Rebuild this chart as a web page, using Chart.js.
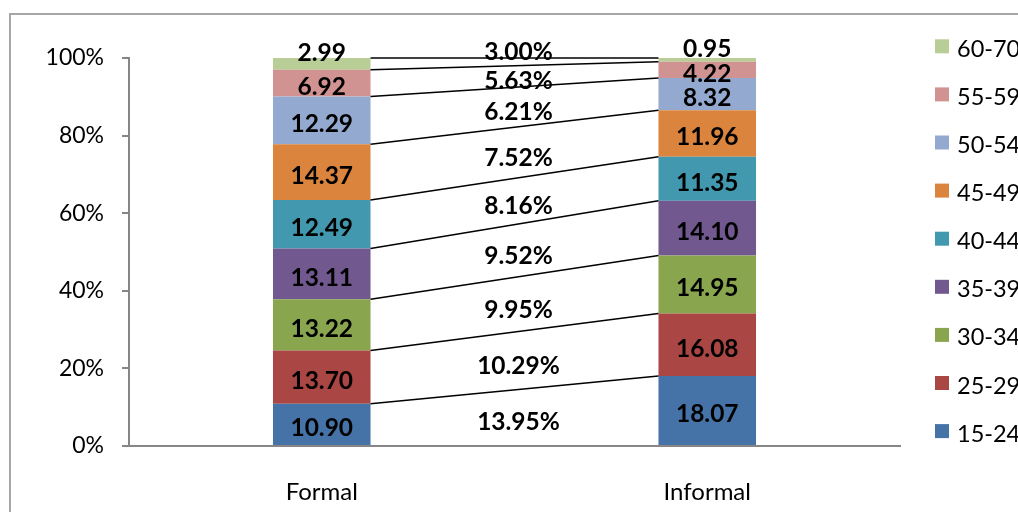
<!DOCTYPE html>
<html>
<head>
<meta charset="utf-8">
<script src="https://cdn.jsdelivr.net/npm/chart.js@4/dist/chart.umd.min.js"></script>
<style>
  html, body { margin: 0; padding: 0; background: #fff; overflow: hidden; }
  #frame { position: absolute; left: 9px; top: 13px; width: 1100px; height: 600px;
           border-left: 2px solid #a6a6a6; border-top: 2px solid #a6a6a6; }
  #c { position: absolute; left: 0; top: 0; }
</style>
</head>
<body>
<div id="frame"></div>
<canvas id="c" width="1018" height="512"></canvas>
<script>
// Employment shares by age group (%), formal vs informal
const categories = ['Formal', 'Informal'];
const ageGroups = ['15-24', '25-29', '30-34', '35-39', '40-44', '45-49', '50-54', '55-59', '60-70'];
const formalShares = [10.90, 13.70, 13.22, 13.11, 12.49, 14.37, 12.29, 6.92, 2.99];
const informalShares = [18.07, 16.08, 14.95, 14.10, 11.35, 11.96, 8.32, 4.22, 0.95];
const gapLabels = ['13.95%', '10.29%', '9.95%', '9.52%', '8.16%', '7.52%', '6.21%', '5.63%', '3.00%'];
const yTicks = [0, 20, 40, 60, 80, 100];

const palette = ['#4572A7', '#AA4643', '#89A54E', '#71588F', '#4198AF', '#DB843D', '#93A9CF', '#D19392', '#B9CD96'];
const AXIS = '#868686';
const FONT = 'Lato, "Open Sans", sans-serif';

const datasets = ageGroups.map((g, i) => ({
  label: g,
  data: [formalShares[i], informalShares[i]],
  backgroundColor: palette[i],
  borderWidth: 0,
  barPercentage: 0.253,
  categoryPercentage: 1
}));

// Excel-style series lines joining segment tops of the two columns
const seriesLines = {
  id: 'seriesLines',
  afterDatasetsDraw(chart) {
    const ctx = chart.ctx;
    ctx.save();
    ctx.strokeStyle = '#000';
    ctx.lineWidth = 1.5;
    chart.data.datasets.forEach((ds, i) => {
      const [a, b] = chart.getDatasetMeta(i).data;
      ctx.beginPath();
      ctx.moveTo(a.x + a.width / 2, a.y);
      ctx.lineTo(b.x - b.width / 2, b.y);
      ctx.stroke();
    });
    ctx.restore();
  }
};

// Value labels on the segments and the labels in the gap between columns
const valueLabels = {
  id: 'valueLabels',
  afterDatasetsDraw(chart) {
    const ctx = chart.ctx;
    ctx.save();
    ctx.fillStyle = '#000';
    ctx.font = 'bold 24.5px ' + FONT;
    ctx.textAlign = 'center';
    ctx.textBaseline = 'middle';
    chart.data.datasets.forEach((ds, i) => {
      const bars = chart.getDatasetMeta(i).data;
      bars.forEach((bar, j) => {
        const top = Math.min(bar.y, bar.base);
        const bottom = Math.max(bar.y, bar.base);
        const mid = (top + bottom) / 2;
        const y = (bottom - top) < 14 ? mid - 11 : mid + 4;
        ctx.fillText(ds.data[j].toFixed(2), bar.x, y);
      });
      const [a, b] = bars;
      const upper = (a.y + b.y) / 2;
      const lower = (a.base + b.base) / 2;
      const gx = ((a.x + a.width / 2) + (b.x - b.width / 2)) / 2 + 4;
      const gy = (lower - upper) < 14 ? upper - 6 : (upper + lower) / 2 + 5;
      ctx.fillText(gapLabels[i], gx, gy);
    });
    ctx.restore();
  }
};

// Legend on the right, top item = last series
const sideLegend = {
  id: 'sideLegend',
  afterDraw(chart) {
    const ctx = chart.ctx;
    const items = chart.data.datasets.slice().reverse();
    ctx.save();
    ctx.font = '23.5px ' + FONT;
    ctx.textAlign = 'left';
    ctx.textBaseline = 'middle';
    items.forEach((ds, k) => {
      const top = 39.3 + 48.1 * k;
      ctx.fillStyle = ds.backgroundColor;
      ctx.fillRect(935, top, 14, 14);
      ctx.fillStyle = '#000';
      ctx.fillText(ds.label, 957, top + 10);
    });
    ctx.restore();
  }
};

new Chart(document.getElementById('c'), {
  type: 'bar',
  data: { labels: categories, datasets },
  options: {
    responsive: false,
    animation: false,
    events: [],
    layout: { padding: { top: 58, right: 118, left: 0, bottom: 0 } },
    plugins: { legend: { display: false }, tooltip: { enabled: false } },
    scales: {
      x: {
        stacked: true,
        grid: { display: false, drawTicks: false },
        border: { display: true, color: AXIS, width: 2 },
        ticks: { color: '#000', padding: 32, font: { family: FONT, size: 24 } },
        afterFit: s => { s.height = 66; }
      },
      y: {
        stacked: true,
        min: 0,
        max: 100,
        afterBuildTicks: s => { s.ticks = yTicks.map(v => ({ value: v })); },
        grid: { display: true, drawOnChartArea: false, drawTicks: true, tickLength: 7, color: AXIS, lineWidth: 2 },
        border: { display: true, color: AXIS, width: 2 },
        ticks: { color: '#000', padding: 18, font: { family: FONT, size: 23 }, callback: v => v + '%' },
        afterFit: s => { s.width = 129; }
      }
    }
  },
  plugins: [seriesLines, valueLabels, sideLegend]
});
</script>
</body>
</html>
